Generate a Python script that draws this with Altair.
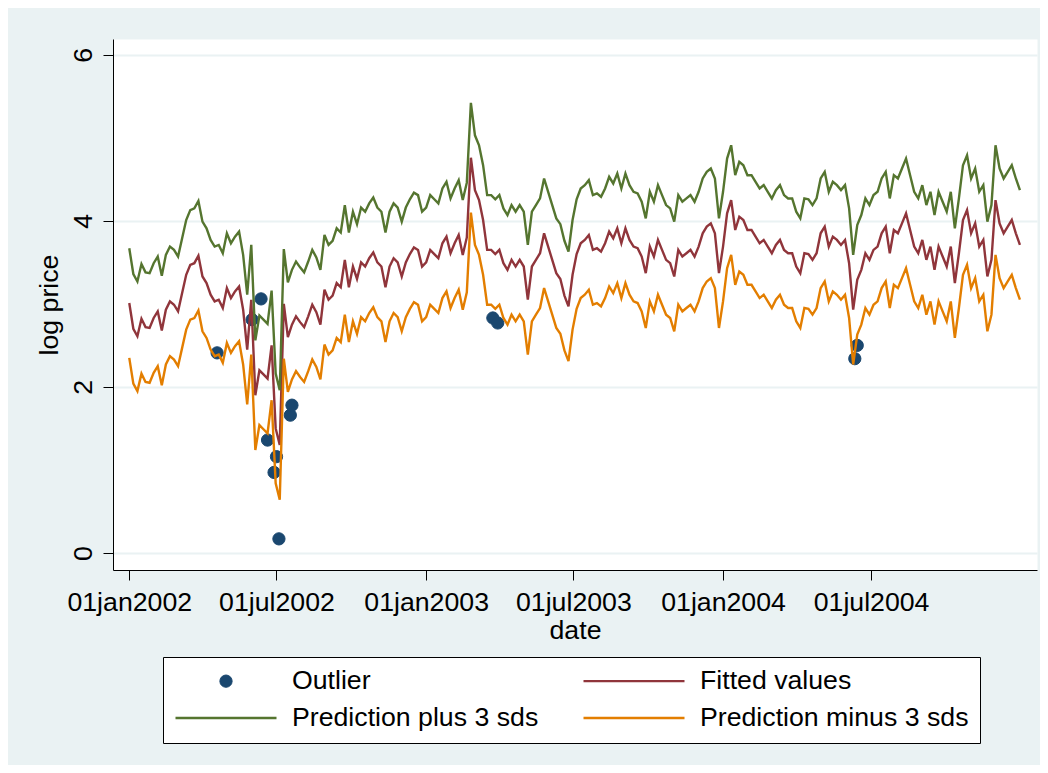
import altair as alt
import pandas as pd

# ---------------- data ----------------
START = "2002-01-01"
STEP_DAYS = 5
fitted = [
    3.01, 2.70, 2.61, 2.82, 2.72, 2.71, 2.83, 2.91, 2.68, 2.93,
    3.03, 2.99, 2.91, 3.13, 3.35, 3.47, 3.49, 3.58, 3.33, 3.25,
    3.11, 3.03, 3.05, 2.95, 3.19, 3.07, 3.15, 3.21, 2.93, 2.45,
    3.05, 1.90, 2.20, 2.15, 2.10, 2.50, 1.50, 1.30, 3.00, 2.60,
    2.75, 2.85, 2.78, 2.72, 2.85, 2.99, 2.90, 2.75, 3.17, 3.05,
    3.10, 3.25, 3.20, 3.53, 3.20, 3.45, 3.30, 3.50, 3.45, 3.55,
    3.62, 3.50, 3.45, 3.20, 3.45, 3.55, 3.50, 3.33, 3.50, 3.60,
    3.68, 3.65, 3.45, 3.50, 3.65, 3.60, 3.55, 3.73, 3.81, 3.61,
    3.73, 3.83, 3.59, 3.80, 4.76, 4.37, 4.25, 4.01, 3.65, 3.65,
    3.60, 3.65, 3.49, 3.41, 3.53, 3.45, 3.53, 3.45, 3.05, 3.45,
    3.53, 3.61, 3.85, 3.69, 3.53, 3.37, 3.30, 3.10, 2.97, 3.35,
    3.60, 3.73, 3.77, 3.83, 3.65, 3.67, 3.63, 3.73, 3.87, 3.79,
    3.91, 3.73, 3.91, 3.77, 3.69, 3.67, 3.57, 3.37, 3.69, 3.57,
    3.77, 3.65, 3.53, 3.49, 3.33, 3.65, 3.57, 3.61, 3.65, 3.57,
    3.69, 3.85, 3.93, 3.97, 3.85, 3.37, 3.69, 4.09, 4.25, 3.89,
    4.05, 4.01, 3.89, 3.89, 3.81, 3.73, 3.77, 3.69, 3.61, 3.71,
    3.77, 3.65, 3.61, 3.61, 3.45, 3.37, 3.61, 3.60, 3.53, 3.61,
    3.85, 3.93, 3.69, 3.81, 3.77, 3.71, 3.77, 3.49, 2.93, 3.29,
    3.41, 3.61, 3.53, 3.65, 3.69, 3.85, 3.93, 3.61, 3.89, 3.85,
    3.97, 4.09, 3.89, 3.69, 3.61, 3.77, 3.53, 3.69, 3.41, 3.69,
    3.57, 3.45, 3.69, 3.25, 3.61, 4.01, 4.13, 3.85, 3.97, 3.69,
    3.77, 3.33, 3.53, 4.25, 3.97, 3.85, 3.93, 4.01, 3.85, 3.71,
]
SD3 = 0.66  # three standard deviations of the prediction (band half-width)

out_dates = ["2002-04-19", "2002-06-01", "2002-06-12", "2002-06-20",
             "2002-06-28", "2002-07-01", "2002-07-04", "2002-07-18",
             "2002-07-20", "2003-03-24", "2003-03-30", "2004-06-11",
             "2004-06-14"]
out_vals = [2.41, 2.81, 3.06, 1.36, 0.97, 1.16, 0.17, 1.66, 1.78,
            2.83, 2.77, 2.34, 2.50]

OUTLIER = "Outlier"
FITTED = "Fitted values"
PLUS = "Prediction plus 3 sds"
MINUS = "Prediction minus 3 sds"

# legend order (filled column by column): Outlier / plus | fitted / minus
legend_order = [OUTLIER, PLUS, FITTED, MINUS]
legend_colors = ["#1A476F", "#55752F", "#90353B", "#E37E00"]
legend_shapes = ["circle", "stroke", "stroke", "stroke"]
legend_sizes = [150, 10201, 10201, 10201]
legend_widths = [1, 2.4, 2.4, 2.4]
draw_order = [FITTED, PLUS, MINUS]

y_ticks = [0, 2, 4, 6]
x_ticks = [(2002, 1), (2002, 7), (2003, 1), (2003, 7), (2004, 1), (2004, 7)]

# ---------------- tables ----------------
dates = pd.date_range(START, periods=len(fitted),
                      freq=f"{STEP_DAYS}D").strftime("%Y-%m-%d")
rows = []
for d, v in zip(dates, fitted):
    rows.append({"date": d, "value": v, "series": FITTED})
    rows.append({"date": d, "value": round(v + SD3, 3), "series": PLUS})
    rows.append({"date": d, "value": round(v - SD3, 3), "series": MINUS})
df_lines = pd.DataFrame(rows)
df_out = pd.DataFrame({"date": out_dates, "value": out_vals, "series": OUTLIER})

FONT = "Liberation Sans, Arial, Helvetica, sans-serif"
FS = 26.7

legend = alt.Legend(
    title=None, orient="none", legendX=50, legendY=618, columns=2,
    columnPadding=43, rowPadding=10, padding=11,
    fillColor="white", strokeColor="black",
    labelFont=FONT, labelFontSize=FS, labelColor="black", labelLimit=500,
    labelOffset=14, symbolOffset=0, clipHeight=26, symbolOpacity=1,
)

x_enc = alt.X(
    "date:T",
    scale=alt.Scale(type="utc", nice=False, domain=[
        alt.DateTime(year=2001, month=12, date=12, utc=True),
        alt.DateTime(year=2005, month=1, date=21, utc=True)]),
    axis=alt.Axis(
        values=[alt.DateTime(year=y, month=m, date=1, utc=True) for y, m in x_ticks],
        labelExpr="lower(utcFormat(datum.value, '%d%b%Y'))",
        title="date", grid=False, tickSize=10, labelPadding=9,
        titlePadding=2, labelFlush=False, labelOverlap=False),
)
y_enc = alt.Y(
    "value:Q",
    scale=alt.Scale(domain=[-0.205, 6.19], nice=False, zero=False),
    axis=alt.Axis(values=y_ticks, format="d", labelAngle=270,
                  labelAlign="center", labelBaseline="bottom",
                  labelPadding=6, tickSize=10, title="log price",
                  titlePadding=7, grid=True),
)
color_enc = alt.Color("series:N",
                      scale=alt.Scale(domain=legend_order, range=legend_colors),
                      legend=legend)
shape_enc = alt.Shape("series:N",
                      scale=alt.Scale(domain=legend_order, range=legend_shapes),
                      legend=legend)
size_enc = alt.Size("series:N",
                    scale=alt.Scale(type="ordinal", domain=legend_order,
                                    range=legend_sizes),
                    legend=legend)
sw_enc = alt.StrokeWidth("series:N",
                         scale=alt.Scale(type="ordinal", domain=legend_order,
                                         range=legend_widths),
                         legend=legend)

points = alt.Chart(df_out).mark_point(
    filled=False, fill="#1A476F", opacity=1, fillOpacity=1
).encode(x=x_enc, y=y_enc, color=color_enc, shape=shape_enc, size=size_enc,
         strokeWidth=sw_enc)

line_layers = [
    alt.Chart(df_lines).transform_filter(alt.datum.series == name)
    .mark_line().encode(x=x_enc, y=y_enc, color=color_enc, strokeWidth=sw_enc)
    for name in draw_order
]

chart = alt.layer(points, *line_layers).properties(
    width=924, height=531,
    autosize=alt.AutoSizeParams(type="none"),
    padding={"left": 105, "top": 31, "right": 3, "bottom": 195},
    background="#EAF2F3",
).configure_view(fill="white", stroke="transparent").configure_axis(
    labelFont=FONT, titleFont=FONT, labelFontSize=FS, titleFontSize=FS,
    labelColor="black", titleColor="black", titleFontWeight="normal",
    domainColor="black", domainWidth=1, tickColor="black", tickWidth=1,
    gridColor="#EAF2F3", gridWidth=2.2,
)

chart.save("out.html", embed_options={"renderer": "svg", "actions": False})
